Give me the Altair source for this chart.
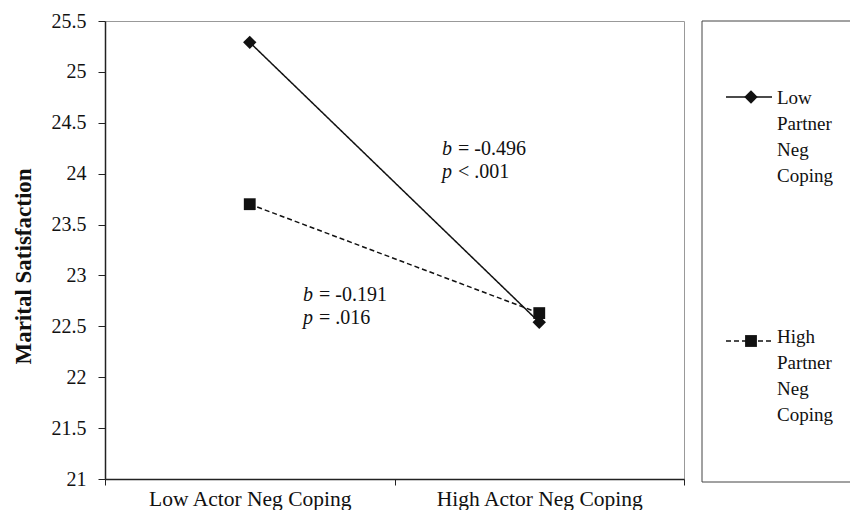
import altair as alt
import pandas as pd

# ---- data ----
actor_levels = ["Low Actor Neg Coping", "High Actor Neg Coping"]
partner_levels = ["Low Partner Neg Coping", "High Partner Neg Coping"]
low_partner_values = [25.29, 22.54]
high_partner_values = [23.70, 22.63]
y_ticks = [21, 21.5, 22, 22.5, 23, 23.5, 24, 24.5, 25, 25.5]
legend_lines = [["Low", "Partner", "Neg", "Coping"], ["High", "Partner", "Neg", "Coping"]]
annot_letter1 = ["b", "b"]
annot_rest1 = ["= -0.496", "= -0.191"]
annot_letter2 = ["p", "p"]
annot_rest2 = ["< .001", "= .016"]
annot_x = [1.164, 0.684]
annot_y = [24.242, 22.808]

FONT = "Liberation Serif"

rows = []
for series, vals in zip(partner_levels, [low_partner_values, high_partner_values]):
    for i, (actor, v) in enumerate(zip(actor_levels, vals)):
        rows.append({"actor": actor, "pos": i + 0.5, "series": series, "value": v})
df = pd.DataFrame(rows)

annot = pd.DataFrame({
    "x": annot_x, "y": annot_y,
    "l1": annot_letter1, "r1": annot_rest1,
    "l2": annot_letter2, "r2": annot_rest2,
})

legend_df = pd.DataFrame({
    "series": partner_levels,
    "label": ["\n".join(l) for l in legend_lines],
})

label_expr = " : ".join(
    f"datum.value == {i + 0.5} ? '{a}'" for i, a in enumerate(actor_levels)
) + " : ''"

x_scale = alt.Scale(domain=[0, len(actor_levels)], nice=False, zero=False)
y_scale = alt.Scale(domain=[21, 25.5], nice=False, zero=False)

x_axis = alt.Axis(
    values=[0, 0.5, 1, 1.5, 2],
    labelExpr=label_expr,
    tickOpacity={"condition": {"test": "datum.value % 1 != 0", "value": 0}, "value": 1},
    tickSize=6, tickColor="#222", domainColor="#222", domainWidth=1.5,
    labelFontSize=21.5, labelPadding=3, labelColor="#111", labelFont=FONT,
    labelLimit=500, labelFlush=False, labelOverlap=False, labelBound=False,
    grid=False, title=None,
)
y_axis = alt.Axis(
    values=y_ticks, format="~g",
    tickSize=7, tickColor="#222", domainColor="#222", domainWidth=1.5,
    labelFontSize=20, labelPadding=12, labelColor="#111", labelFont=FONT,
    grid=False, title="Marital Satisfaction", titleFont=FONT, titleFontSize=23,
    titleFontWeight="bold", titleColor="#111", titleAngle=270,
    titleX=-82, titleY=245, titleAlign="center", titleBaseline="middle",
)

shape_scale = alt.Scale(domain=partner_levels, range=["diamond", "square"])
dash_scale = alt.Scale(domain=partner_levels, range=[[1, 0], [5, 3]])
size_scale = alt.Scale(domain=partner_levels, range=[180, 140])

base = alt.Chart(df)
lines = base.mark_line(color="#111", strokeWidth=1.5).encode(
    x=alt.X("pos:Q", scale=x_scale, axis=x_axis),
    y=alt.Y("value:Q", scale=y_scale, axis=y_axis),
    strokeDash=alt.StrokeDash("series:N", scale=dash_scale, legend=None),
    detail="series:N",
)
points = base.mark_point(filled=True, color="#111", opacity=1).encode(
    x="pos:Q",
    y="value:Q",
    shape=alt.Shape("series:N", scale=shape_scale, legend=None),
    size=alt.Size("series:N", scale=size_scale, legend=None),
    order=alt.Order("series:N", sort="ascending"),
)

ab = alt.Chart(annot)
tstyle = dict(font=FONT, fontSize=20, color="#111", align="left", baseline="middle")
t1 = ab.mark_text(fontStyle="italic", **tstyle).encode(x="x:Q", y="y:Q", text="l1:N")
t2 = ab.mark_text(dx=16, **tstyle).encode(x="x:Q", y="y:Q", text="r1:N")
t3 = ab.mark_text(fontStyle="italic", dy=23, **tstyle).encode(x="x:Q", y="y:Q", text="l2:N")
t4 = ab.mark_text(dx=16, dy=23, **tstyle).encode(x="x:Q", y="y:Q", text="r2:N")

# ---- legend panel (drawn beside the plot) ----
box_df = pd.DataFrame({"k": [0]})
box = alt.Chart(box_df)
box_color = "#444"
box_left = box.mark_rule(color=box_color, strokeWidth=1).encode(
    x=alt.value(597), y=alt.value(0), y2=alt.value(461))
box_top = box.mark_rule(color=box_color, strokeWidth=1).encode(
    x=alt.value(597), x2=alt.value(780), y=alt.value(0))
box_bottom = box.mark_rule(color=box_color, strokeWidth=1).encode(
    x=alt.value(597), x2=alt.value(780), y=alt.value(461))

leg_layers = []
for series, line_y, text_y in zip(partner_levels, [76, 320], [83, 322]):
    ld = alt.Chart(legend_df).transform_filter(alt.datum.series == series)
    leg_layers.append(ld.mark_rule(color="#111", strokeWidth=1.5).encode(
        x=alt.value(621), x2=alt.value(667), y=alt.value(line_y),
        strokeDash=alt.StrokeDash("series:N", scale=dash_scale, legend=None)))
    leg_layers.append(ld.mark_point(filled=True, color="#111", opacity=1).encode(
        x=alt.value(646), y=alt.value(line_y),
        shape=alt.Shape("series:N", scale=shape_scale, legend=None),
        size=alt.Size("series:N", scale=size_scale, legend=None)))
    leg_layers.append(ld.mark_text(font=FONT, fontSize=19, color="#111", align="left",
                                   baseline="alphabetic", lineBreak="\n", lineHeight=26).encode(
        x=alt.value(672), y=alt.value(text_y), text="label:N"))

chart = alt.layer(
    lines, points, t1, t2, t3, t4, box_left, box_top, box_bottom, *leg_layers
).properties(
    width=579, height=458,
    autosize=alt.AutoSizeParams(type="none"),
    padding={"left": 97, "top": 13, "right": 166, "bottom": 31},
    background="white",
).configure(font=FONT).configure_view(stroke="#999", strokeWidth=1)

chart.save("out.html", embed_options={"renderer": "svg", "actions": False})
